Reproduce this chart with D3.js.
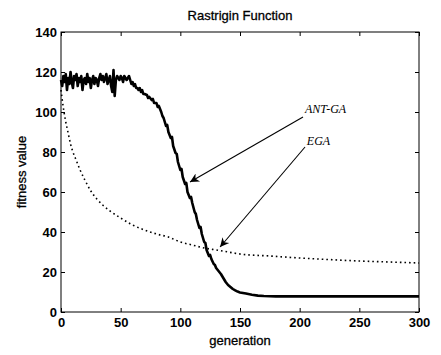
<!DOCTYPE html>
<html>
<head>
<meta charset="utf-8">
<script src="https://cdn.jsdelivr.net/npm/d3@7"></script>
<style>
  body { margin: 0; background: #fff; }
  svg { display: block; }
  text { fill: #000; }
</style>
</head>
<body>
<svg id="chart"></svg>
<script>
let svgWidth = 441
let svgHeight = 355

let xTicks = [0, 50, 100, 150, 200, 250, 300]
let yTicks = [0, 20, 40, 60, 80, 100, 120, 140]

// ANT-GA, solid thick line
let antGen = [0, 1, 2, 3, 4, 5, 6, 7, 8, 9, 10, 11, 12, 13, 14, 15, 16, 17, 18, 19,
  20, 21, 22, 23, 24, 25, 26, 27, 28, 29, 30, 31, 32, 33, 34, 35, 36, 37, 38, 39,
  40, 41, 42, 43, 44, 45, 46, 47, 48, 49, 50, 51, 52, 53, 54, 55, 56, 57, 58, 59,
  60, 61, 62, 63, 64, 65, 66, 67, 68, 69, 70,
  72, 73, 74, 76, 77, 78, 80, 81, 82, 84, 85, 86, 88, 89, 90, 92, 93, 94, 96, 97, 98,
  100, 101, 102, 104, 105, 106, 108, 109, 110, 112, 113, 114, 116, 117, 118, 120, 121,
  122, 124, 125, 126, 128, 129, 130, 132, 134, 135, 136, 138, 140, 142, 144,
  146, 148, 150, 155, 160, 165, 170, 180, 200, 250, 300]
let antVal = [116, 113, 118, 115, 119, 111, 117, 114, 120, 115, 112, 118, 116, 119, 113, 117, 115, 118, 111, 116,
  117, 114, 119, 115, 117, 112, 116, 118, 114, 117, 116, 113, 117, 119, 116, 118, 115, 117, 119, 114,
  116, 118, 113, 110, 121, 108, 116, 118, 117, 116, 118, 117, 115, 118, 117, 116, 117, 118, 116, 114,
  115, 113, 114, 112, 112, 111, 112, 110, 111, 109, 109,
  108.5, 107, 107.5, 106, 106.5, 104.5, 104.5, 102.5, 103, 100, 98, 97, 93, 93.5, 90, 87, 87.5, 83, 79.5, 79, 75,
  71, 71.5, 67.5, 64, 64.5, 60, 57, 57.5, 54.5, 50, 49, 46, 42, 42.5, 39, 35, 34.5,
  31, 28, 28.5, 26.5, 24, 23.5, 22, 20.5, 19, 18, 17, 15, 13.5, 12.5, 11.5,
  10.8, 10.2, 9.8, 9.2, 8.6, 8.2, 8, 7.8, 7.8, 7.8, 7.8]

// EGA, dotted line
let egaGen = [0, 2, 4, 6, 8, 10, 12, 16, 20, 25, 30, 35, 40, 50, 60, 70, 80, 90, 100,
  110, 120, 130, 140, 150, 175, 200, 225, 250, 275, 300]
let egaVal = [111, 102, 95, 89.5, 84, 80, 77, 71, 66, 60.5, 56.5, 53.5, 51, 47, 43.5, 41, 39, 37.5, 35,
  33.5, 32, 31, 30, 29, 28, 27, 26.2, 25.5, 25, 24.5]

let labels = ['ANT-GA', 'EGA']
let labelAt = [[204.5, 99.5], [206, 83.5]]
let arrowFrom = [[202.8, 97.5], [204.5, 82.5]]
let arrowTo = [[108.1, 65], [133.3, 32.5]]

let margin = { left: 61, right: 22, top: 32, bottom: 43 }

let svg = d3.select('#chart').attr('width', svgWidth).attr('height', svgHeight)

let xScale = d3.scaleLinear().domain([0, 300]).range([margin.left, svgWidth - margin.right])
let yScale = d3.scaleLinear().domain([0, 140]).range([svgHeight - margin.bottom, margin.top])

function styleAxis(g) {
  g.select('.domain').remove()
  g.selectAll('line').attr('stroke', '#000').attr('stroke-width', 1)
  g.selectAll('text')
    .attr('font-family', 'Liberation Sans, Arial, sans-serif')
    .attr('font-size', 13)
    .attr('font-weight', 'bold')
}

svg.append('g')
  .attr('transform', 'translate(0,' + yScale(0) + ')')
  .call(d3.axisBottom(xScale).tickValues(xTicks).tickSize(-4).tickPadding(6))
  .call(styleAxis)
svg.append('g')
  .attr('transform', 'translate(0,' + yScale(140) + ')')
  .call(d3.axisTop(xScale).tickValues(xTicks).tickSize(-4).tickFormat(''))
  .call(styleAxis)
svg.append('g')
  .attr('transform', 'translate(' + xScale(0) + ',0)')
  .call(d3.axisLeft(yScale).tickValues(yTicks).tickSize(-4).tickPadding(4))
  .call(styleAxis)
svg.append('g')
  .attr('transform', 'translate(' + xScale(300) + ',0)')
  .call(d3.axisRight(yScale).tickValues(yTicks).tickSize(-4).tickFormat(''))
  .call(styleAxis)

svg.append('rect')
  .attr('x', xScale(0)).attr('y', yScale(140))
  .attr('width', xScale(300) - xScale(0)).attr('height', yScale(0) - yScale(140))
  .attr('fill', 'none').attr('stroke', '#000').attr('stroke-width', 1)

let egaLine = d3.line().x(d => xScale(d[0])).y(d => yScale(d[1])).curve(d3.curveMonotoneX)
let antLine = d3.line().x(d => xScale(d[0])).y(d => yScale(d[1]))

svg.append('path')
  .datum(egaGen.map((g, i) => [g, egaVal[i]]))
  .attr('d', egaLine)
  .attr('fill', 'none')
  .attr('stroke', '#000')
  .attr('stroke-width', 1.6)
  .attr('stroke-dasharray', '1.6,3')

svg.append('path')
  .datum(antGen.map((g, i) => [g, antVal[i]]))
  .attr('d', antLine)
  .attr('fill', 'none')
  .attr('stroke', '#000')
  .attr('stroke-width', 2.6)
  .attr('stroke-linejoin', 'round')

// arrow heads
svg.append('defs').append('marker')
  .attr('id', 'head')
  .attr('viewBox', '0 0 10 10')
  .attr('refX', 10)
  .attr('refY', 5)
  .attr('markerUnits', 'userSpaceOnUse')
  .attr('markerWidth', 11)
  .attr('markerHeight', 9)
  .attr('orient', 'auto')
  .append('path')
  .attr('d', 'M0,0 L10,5 L0,10 L3,5 z')
  .attr('fill', '#000')

svg.selectAll('.arrow')
  .data(labels)
  .enter()
  .append('line')
  .attr('class', 'arrow')
  .attr('x1', (d, i) => xScale(arrowFrom[i][0]))
  .attr('y1', (d, i) => yScale(arrowFrom[i][1]))
  .attr('x2', (d, i) => xScale(arrowTo[i][0]))
  .attr('y2', (d, i) => yScale(arrowTo[i][1]))
  .attr('stroke', '#000')
  .attr('stroke-width', 1.1)
  .attr('marker-end', 'url(#head)')

svg.selectAll('.label')
  .data(labels)
  .enter()
  .append('text')
  .attr('class', 'label')
  .attr('x', (d, i) => xScale(labelAt[i][0]))
  .attr('y', (d, i) => yScale(labelAt[i][1]))
  .attr('font-family', 'Liberation Serif, Times New Roman, serif')
  .attr('font-style', 'italic')
  .attr('font-size', 12)
  .text(d => d)

function plainText(x, y, s) {
  return svg.append('text')
    .attr('x', x)
    .attr('y', y)
    .attr('text-anchor', 'middle')
    .attr('font-family', 'Liberation Sans, Arial, sans-serif')
    .attr('font-size', 13)
    .attr('stroke', '#000')
    .attr('stroke-width', 0.3)
    .text(s)
}

plainText((xScale(0) + xScale(300)) / 2, 20, 'Rastrigin Function')
plainText((xScale(0) + xScale(300)) / 2, 345, 'generation')
plainText(0, 0, 'fitness value')
  .attr('transform', 'translate(26,' + yScale(70) + ') rotate(-90)')
</script>
</body>
</html>
